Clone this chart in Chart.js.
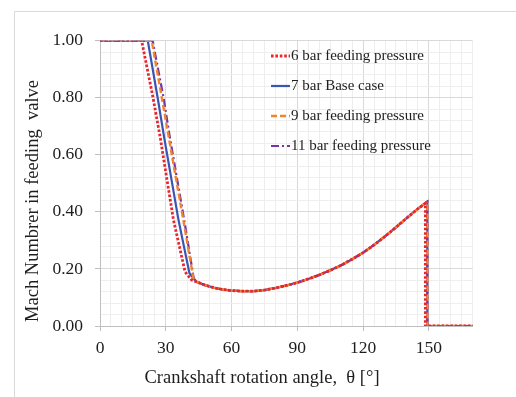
<!DOCTYPE html>
<html>
<head>
<meta charset="utf-8">
<script src="https://cdn.jsdelivr.net/npm/chart.js@4/dist/chart.umd.min.js"></script>
<style>
  html, body { margin: 0; padding: 0; background: #fff; }
  #wrap { position: relative; width: 516px; height: 397px; }
</style>
</head>
<body>
<div id="wrap"><canvas id="mach" width="516" height="397"></canvas></div>
<script>
/* ---- Data (angle in deg, Mach number) ---- */
const seriesNames = ['6 bar feeding pressure', '7 bar Base case', '9 bar feeding pressure', '11 bar feeding pressure'];

// falling part right after the valve opens, one pair per case
const dropAngle6  = [0, 19.0, 24.1, 27.4, 33.5, 38.8, 41.8];
const dropMach6   = [1, 1, 0.804, 0.664, 0.372, 0.190, 0.161];
const dropAngle7  = [0, 21.8, 26.3, 29.2, 35.8, 40.8];
const dropMach7   = [1, 1, 0.800, 0.664, 0.372, 0.185];
const dropAngle9  = [0, 23.6, 28.2, 31.3, 38.0, 42.6];
const dropMach9   = [1, 1, 0.800, 0.664, 0.372, 0.167];
const dropAngle11 = [0, 24.0, 29.0, 31.8, 38.4, 42.8];
const dropMach11  = [1, 1, 0.800, 0.664, 0.372, 0.165];

// shared recovery curve (all four cases overlap here)
const curveAngle = [44, 48, 52, 56, 60, 65, 70, 75, 80, 85, 90, 95, 100, 105, 110, 115, 120, 125, 130, 135, 140, 145];
const curveMach  = [0.155, 0.143, 0.134, 0.128, 0.124, 0.122, 0.122, 0.126, 0.133, 0.142, 0.152, 0.165, 0.179, 0.195, 0.213, 0.234, 0.257, 0.284, 0.314, 0.346, 0.379, 0.411];

// valve closing
const closeAngle6 = [148.4, 148.4, 170];
const closeMach6  = [0.430, 0, 0];
const closeAngle  = [149.3, 149.3, 170];
const closeMach   = [0.436, 0, 0];

const xTicks = [0, 30, 60, 90, 120, 150];
const yTicks = [0, 0.2, 0.4, 0.6, 0.8, 1.0];

/* ---- Helpers ---- */
function toPoints(xs, ys) {
  return xs.map((x, i) => ({ x, y: ys[i] }));
}
function buildSeries(dA, dM, cA, cM) {
  return [...toPoints(dA, dM), ...toPoints(curveAngle, curveMach), ...toPoints(cA, cM)];
}
const isMajor = (v, list) => list.some((t) => Math.abs(t - v) < 1e-6);

const FONT = "'Liberation Serif', 'Times New Roman', serif";
const TEXT = '#1e1e1e';

/* ---- Extra drawing: frame, axis titles, legend inside plot ---- */
const decor = {
  id: 'decor',
  beforeDraw(chart) {
    const c = chart.ctx;
    c.save();
    c.strokeStyle = '#d9d9d9';
    c.lineWidth = 1;
    c.beginPath();
    c.moveTo(14.5, 397);
    c.lineTo(14.5, 11.5);
    c.lineTo(516, 11.5);
    c.stroke();
    c.restore();
  },
  afterDraw(chart) {
    const c = chart.ctx;
    c.save();
    c.fillStyle = TEXT;
    c.font = `18.5px ${FONT}`;
    c.textAlign = 'center';
    c.textBaseline = 'middle';
    c.fillText('Crankshaft rotation angle,  \u03B8 [\u00B0]', 262, 378);
    c.translate(33, 201);
    c.rotate(-Math.PI / 2);
    c.fillText('Mach Numbrer in feeding  valve', 0, 0);
    c.restore();

    // legend
    c.save();
    c.font = `15px ${FONT}`;
    c.textBaseline = 'middle';
    c.textAlign = 'left';
    chart.data.datasets.forEach((ds, i) => {
      const y = 56 + i * 30;
      c.strokeStyle = ds.borderColor;
      c.lineWidth = ds.borderWidth;
      c.setLineDash(ds.borderDash || []);
      c.lineCap = ds.borderCapStyle || 'butt';
      c.beginPath();
      c.moveTo(271, y);
      c.lineTo(290, y);
      c.stroke();
      c.fillStyle = TEXT;
      c.fillText(ds.label, 291, y);
    });
    c.restore();
  },
};

/* ---- Chart ---- */
new Chart(document.getElementById('mach'), {
  type: 'line',
  data: {
    datasets: [
      {
        label: seriesNames[0],
        data: buildSeries(dropAngle6, dropMach6, closeAngle6, closeMach6),
        borderColor: '#e8262b', borderWidth: 2.8, borderDash: [2.6, 1.8],
        order: 0,
      },
      {
        label: seriesNames[1],
        data: buildSeries(dropAngle7, dropMach7, closeAngle, closeMach),
        borderColor: '#3b55b3', borderWidth: 2.2,
        order: 3,
      },
      {
        label: seriesNames[2],
        data: buildSeries(dropAngle9, dropMach9, closeAngle, closeMach),
        borderColor: '#f0842f', borderWidth: 2.4, borderDash: [6, 3],
        order: 1,
      },
      {
        label: seriesNames[3],
        data: buildSeries(dropAngle11, dropMach11, closeAngle, closeMach),
        borderColor: '#7336a6', borderWidth: 2.2, borderDash: [8, 3, 2, 3],
        order: 2,
      },
    ],
  },
  options: {
    responsive: false,
    devicePixelRatio: 1,
    animation: false,
    elements: { point: { radius: 0 }, line: { tension: 0, fill: false } },
    layout: { padding: { top: 40.7, right: 43.3, bottom: 0, left: 0 } },
    plugins: { legend: { display: false }, tooltip: { enabled: false } },
    scales: {
      x: {
        type: 'linear', min: 0, max: 170,
        afterFit: (s) => { s.height = 71; },
        border: { color: '#bfbfbf' },
        grid: {
          color: (ctx) => (ctx.tick && isMajor(ctx.tick.value, xTicks) ? '#d9d9d9' : '#eeeeee'),
          tickColor: (ctx) => (ctx.tick && isMajor(ctx.tick.value, xTicks) ? '#bfbfbf' : 'rgba(0,0,0,0)'),
          tickLength: 5,
        },
        ticks: {
          stepSize: 5, autoSkip: false, maxRotation: 0, padding: 7,
          color: TEXT, font: { family: FONT, size: 17.5 },
          callback: (v) => (isMajor(v, xTicks) ? String(v) : ''),
        },
      },
      y: {
        type: 'linear', min: 0, max: 1,
        afterFit: (s) => { s.width = 100; },
        border: { color: '#bfbfbf' },
        grid: {
          color: (ctx) => (ctx.tick && isMajor(ctx.tick.value, yTicks) ? '#d9d9d9' : '#eeeeee'),
          tickColor: (ctx) => (ctx.tick && isMajor(ctx.tick.value, yTicks) ? '#bfbfbf' : 'rgba(0,0,0,0)'),
          tickLength: 5,
        },
        ticks: {
          stepSize: 0.04, autoSkip: false, padding: 12,
          color: TEXT, font: { family: FONT, size: 17.5 },
          callback: (v) => (isMajor(v, yTicks) ? v.toFixed(2) : ''),
        },
      },
    },
  },
  plugins: [decor],
});
</script>
</body>
</html>
